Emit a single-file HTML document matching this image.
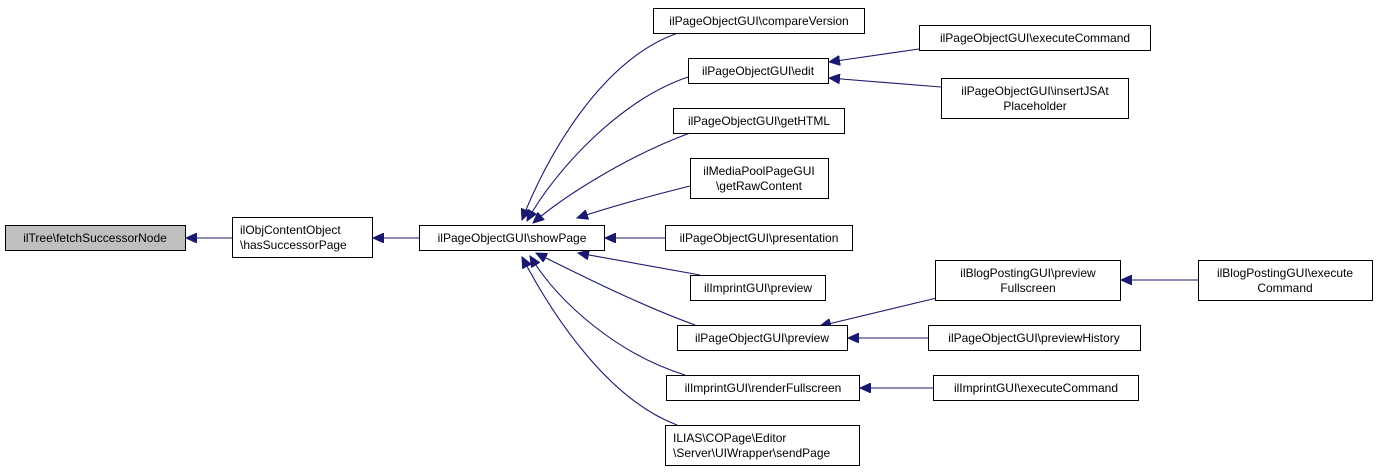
<!DOCTYPE html>
<html><head><meta charset="utf-8"><style>
html,body{margin:0;padding:0;background:#fff;}
svg{display:block}
text{font-family:"Liberation Sans",sans-serif;font-size:12px;fill:#000}
</style></head><body>
<svg width="1376" height="474" viewBox="0 0 1376 474" xmlns="http://www.w3.org/2000/svg">
<defs>
<marker id="a" markerUnits="userSpaceOnUse" markerWidth="12" markerHeight="10" refX="11" refY="5" orient="auto">
<path d="M0,0 L11,5 L0,10 Z" fill="#191970" stroke="#191970"/>
</marker>
</defs>
<g fill="none" stroke="#191970" stroke-width="1.1" marker-end="url(#a)">
<path d="M232,238 L186,238"/>
<path d="M419,238 L373,238"/>
<path d="M678,33 C600,60 545,160 522,220"/>
<path d="M688,77 C620,100 555,170 527,221"/>
<path d="M690,133 C630,155 565,195 533,223"/>
<path d="M690,186 C650,196 610,207 577,218"/>
<path d="M665,238 L605,238"/>
<path d="M700,275 L578,253"/>
<path d="M695,325 C640,305 580,275 536,253"/>
<path d="M685,375 C620,355 560,305 530,256"/>
<path d="M677,425 C610,400 555,320 522,257"/>
<path d="M919,49 L829,62"/>
<path d="M941,87 L829,78"/>
<path d="M945,296 L820,326"/>
<path d="M928,338 L848,338"/>
<path d="M933,388 L860,388"/>
<path d="M1198,280 L1121,280"/>
</g>
<g stroke="#000" stroke-width="1" fill="#fff">
<rect x="5.5" y="225.5" width="180" height="25" fill="#bfbfbf"/>
<rect x="232.5" y="217.5" width="140" height="40"/>
<rect x="419.5" y="225.5" width="185" height="25"/>
<rect x="653.5" y="8.5" width="211" height="25"/>
<rect x="688.5" y="58.5" width="140" height="25"/>
<rect x="673.5" y="108.5" width="171" height="25"/>
<rect x="690.5" y="158.5" width="138" height="40"/>
<rect x="665.5" y="225.5" width="187" height="25"/>
<rect x="690.5" y="275.5" width="135" height="25"/>
<rect x="677.5" y="325.5" width="170" height="25"/>
<rect x="666.5" y="375.5" width="193" height="25"/>
<rect x="665.5" y="425.5" width="194" height="40"/>
<rect x="919.5" y="25.5" width="231" height="25"/>
<rect x="941.5" y="78.5" width="187" height="40"/>
<rect x="935.5" y="260.5" width="185" height="40"/>
<rect x="1198.5" y="260.5" width="174" height="40"/>
<rect x="928.5" y="325.5" width="212" height="25"/>
<rect x="933.5" y="375.5" width="205" height="25"/>
</g>
<g text-anchor="middle">
<text x="95" y="242">ilTree\fetchSuccessorNode</text>
<text x="240" y="234" text-anchor="start">ilObjContentObject</text>
<text x="240" y="249" text-anchor="start">\hasSuccessorPage</text>
<text x="512" y="242">ilPageObjectGUI\showPage</text>
<text x="759" y="25">ilPageObjectGUI\compareVersion</text>
<text x="758" y="75">ilPageObjectGUI\edit</text>
<text x="759" y="125">ilPageObjectGUI\getHTML</text>
<text x="759" y="175">ilMediaPoolPageGUI</text>
<text x="759" y="190">\getRawContent</text>
<text x="759" y="242">ilPageObjectGUI\presentation</text>
<text x="758" y="292">ilImprintGUI\preview</text>
<text x="762" y="342">ilPageObjectGUI\preview</text>
<text x="763" y="392">ilImprintGUI\renderFullscreen</text>
<text x="673" y="442" text-anchor="start">ILIAS\COPage\Editor</text>
<text x="673" y="457" text-anchor="start">\Server\UIWrapper\sendPage</text>
<text x="1035" y="42">ilPageObjectGUI\executeCommand</text>
<text x="1035" y="95">ilPageObjectGUI\insertJSAt</text>
<text x="1035" y="110">Placeholder</text>
<text x="1028" y="277">ilBlogPostingGUI\preview</text>
<text x="1028" y="292">Fullscreen</text>
<text x="1285" y="277">ilBlogPostingGUI\execute</text>
<text x="1285" y="292">Command</text>
<text x="1034" y="342">ilPageObjectGUI\previewHistory</text>
<text x="1036" y="392">ilImprintGUI\executeCommand</text>
</g>
</svg>
</body></html>
